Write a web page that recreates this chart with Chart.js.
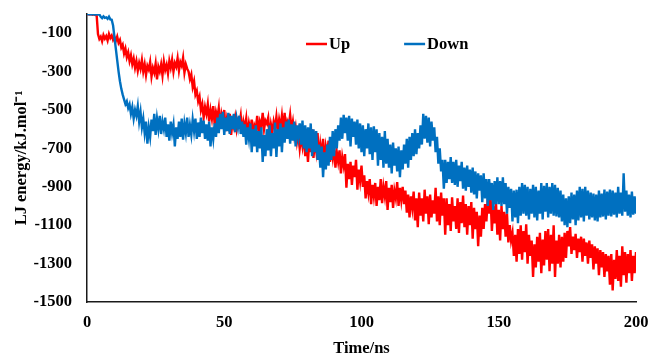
<!DOCTYPE html>
<html>
<head>
<meta charset="utf-8">
<script src="https://cdn.jsdelivr.net/npm/chart.js@4/dist/chart.umd.min.js"></script>
<style>
html,body{margin:0;padding:0;background:#fff;}
#wrap{width:649px;height:356px;position:relative;}
</style>
</head>
<body>
<div id="wrap"><canvas id="c" width="649" height="356"></canvas></div>
<script>
// ---- data ----
const seriesNames = ["Up", "Down"];
const sampleStepNs = 0.5;
const upValues = [
  0,-2,-3,-1,-4,-2,-5,-3,-105,-130,-118,-142,-110,-128,-115,-138,-104,-125,-112,-135,-120,
  -140,-118,-150,-135,-175,-160,-205,-180,-225,-200,-245,-215,-262,-232,-280,-245,-295,-255,-285,-240,
  -300,-262,-318,-270,-290,-250,-325,-280,-305,-258,-340,-275,-300,-262,-320,-248,-292,-265,-310,-245,
  -280,-238,-300,-255,-275,-230,-295,-250,-270,-228,-305,-262,-285,-300,-340,-315,-380,-350,-420,-400,
  -455,-430,-500,-470,-540,-485,-520,-470,-560,-500,-545,-480,-575,-510,-540,-490,-590,-520,-555,-500,
  -610,-545,-580,-520,-630,-560,-590,-540,-600,-555,-575,-530,-620,-560,-595,-545,-635,-570,-610,-550,
  -640,-580,-600,-530,-620,-560,-585,-515,-600,-555,-570,-540,-645,-575,-615,-560,-595,-535,-610,-550,
  -590,-530,-605,-515,-620,-560,-580,-525,-600,-560,-630,-590,-665,-620,-700,-640,-690,-630,-740,-660,
  -770,-650,-720,-600,-750,-660,-715,-620,-760,-680,-740,-650,-790,-690,-730,-660,-770,-700,-750,-680,
  -800,-720,-770,-710,-830,-745,-790,-730,-905,-780,-860,-770,-890,-790,-850,-760,-915,-810,-870,-790,
  -900,-840,-960,-870,-930,-860,-990,-890,-950,-880,-1000,-900,-970,-860,-985,-900,-950,-870,-1020,-905,
  -980,-890,-1010,-920,-960,-875,-1000,-905,-970,-900,-990,-920,-1035,-940,-1060,-950,-1010,-925,-1075,-960,
  -1110,-930,-1050,-960,-1080,-915,-1040,-950,-1095,-940,-1060,-970,-1040,-905,-1080,-950,-1100,-930,-1050,-960,
  -1150,-960,-1100,-990,-1130,-955,-1080,-1000,-1120,-960,-1140,-980,-1090,-945,-1110,-990,-1150,-1000,-1100,-980,
  -1170,-1010,-1120,-1030,-1210,-1050,-1160,-1010,-1120,-990,-1080,-960,-1040,-945,-1130,-1000,-1090,-985,-1150,-1020,
  -1180,-1000,-1120,-1030,-1160,-1040,-1190,-1100,-1180,-1140,-1260,-1150,-1290,-1120,-1250,-1100,-1280,-1130,-1240,-1095,
  -1300,-1150,-1260,-1180,-1370,-1200,-1320,-1160,-1290,-1140,-1350,-1175,-1310,-1130,-1280,-1120,-1340,-1150,-1300,-1100,
  -1370,-1180,-1300,-1150,-1320,-1160,-1290,-1140,-1270,-1130,-1210,-1110,-1250,-1160,-1230,-1145,-1270,-1170,-1240,-1160,
  -1290,-1170,-1260,-1190,-1300,-1180,-1270,-1200,-1330,-1210,-1300,-1220,-1360,-1230,-1320,-1240,-1370,-1250,-1340,-1260,
  -1410,-1250,-1440,-1280,-1380,-1230,-1390,-1260,-1420,-1210,-1360,-1240,-1400,-1250,-1350,-1230,-1390,-1260,-1350,-1240
];
const downValues = [
  0,-2,-1,-3,0,-2,-4,-1,-3,-2,-15,-22,-12,-20,-18,-25,-14,-28,-30,-60,-120,
  -180,-240,-300,-350,-390,-420,-445,-470,-455,-490,-470,-520,-485,-545,-500,-530,-480,-560,-510,-590,
  -545,-620,-560,-675,-590,-640,-550,-610,-520,-630,-545,-600,-530,-625,-560,-600,-540,-640,-575,-660,
  -560,-620,-575,-690,-590,-650,-560,-640,-545,-655,-570,-620,-540,-640,-580,-630,-550,-610,-545,-650,
  -565,-640,-540,-620,-555,-650,-575,-660,-560,-690,-590,-650,-570,-640,-540,-620,-520,-600,-510,-630,
  -540,-610,-515,-625,-530,-600,-520,-615,-545,-590,-530,-625,-560,-640,-575,-680,-590,-650,-570,-720,
  -600,-690,-580,-720,-610,-700,-590,-770,-630,-740,-600,-710,-580,-740,-620,-700,-565,-745,-600,-690,
  -570,-720,-590,-670,-560,-650,-550,-675,-575,-660,-560,-690,-580,-640,-570,-680,-555,-700,-580,-720,
  -590,-700,-570,-740,-600,-720,-610,-760,-680,-800,-690,-850,-720,-810,-680,-790,-640,-760,-610,-740,
  -600,-700,-580,-660,-540,-650,-525,-620,-540,-660,-530,-690,-545,-640,-560,-680,-550,-700,-570,-720,
  -580,-740,-600,-700,-570,-730,-590,-760,-585,-720,-600,-790,-620,-760,-640,-800,-610,-780,-650,-800,
  -680,-830,-670,-790,-700,-820,-690,-850,-710,-810,-680,-780,-650,-800,-640,-760,-620,-740,-600,-730,
  -620,-700,-580,-680,-520,-650,-530,-670,-540,-690,-560,-660,-590,-720,-640,-780,-700,-820,-760,-910,
  -760,-880,-770,-860,-745,-880,-770,-890,-760,-900,-790,-870,-770,-910,-800,-920,-790,-900,-810,-930,
  -800,-940,-820,-960,-830,-920,-840,-980,-830,-960,-860,-1000,-860,-970,-880,-1020,-870,-990,-850,-990,
  -870,-1000,-850,-990,-880,-1040,-900,-1010,-910,-1080,-920,-1060,-915,-1090,-900,-1050,-880,-1040,-890,-1050,
  -900,-1070,-910,-1040,-890,-1060,-900,-1075,-920,-1040,-880,-1070,-895,-1030,-880,-1060,-900,-1040,-880,-1050,
  -890,-1055,-905,-1060,-920,-1080,-940,-1100,-960,-1110,-950,-1090,-930,-1070,-940,-1100,-920,-1075,-900,-1060,
  -910,-1080,-900,-1050,-920,-1070,-930,-1060,-935,-1075,-940,-1080,-920,-1060,-935,-1055,-915,-1070,-925,-1050,
  -915,-1055,-920,-1045,-930,-1060,-900,-1040,-930,-1050,-830,-1030,-920,-1050,-940,-1060,-925,-1045,-950,-1040
];
const xTicks = [0, 50, 100, 150, 200];
const yTicks = [-1500, -1300, -1100, -900, -700, -500, -300, -100];
const xTitle = "Time/ns";
const yTitle = "LJ energy/kJ.mol\u207B\u00B9";

// ---- chart ----
const FONT = "'Liberation Serif', 'Times New Roman', serif";
const toPts = (vals) => vals.map((v, i) => ({x: i * sampleStepNs, y: v}));

const legendPlugin = {
  id: 'manualLegend',
  afterDraw(chart) {
    const ctx = chart.ctx;
    const ca = chart.chartArea;
    ctx.save();
    ctx.font = "bold 16.5px " + FONT;
    ctx.textBaseline = 'middle';
    ctx.fillStyle = '#000';
    let x = ca.left + 219;
    const y = ca.top + 30;
    chart.data.datasets.forEach((ds) => {
      ctx.strokeStyle = ds.borderColor;
      ctx.lineWidth = 2.5;
      ctx.beginPath();
      ctx.moveTo(x, y);
      ctx.lineTo(x + 21, y);
      ctx.stroke();
      ctx.fillText(ds.label, x + 23, y + 1);
      x += 23 + ctx.measureText(ds.label).width + 54;
    });
    ctx.restore();
  }
};

const zeroPad = (axis) => { axis.paddingLeft = 0; axis.paddingRight = 0; axis.paddingTop = 0; axis.paddingBottom = 0; };

new Chart(document.getElementById('c'), {
  type: 'line',
  data: {
    datasets: [
      {label: seriesNames[0], data: toPts(upValues), borderColor: '#FF0000', borderWidth: 2.4, pointRadius: 0, tension: 0, order: 1},
      {label: seriesNames[1], data: toPts(downValues), borderColor: '#0070C0', borderWidth: 2.4, pointRadius: 0, tension: 0, order: 0}
    ]
  },
  options: {
    responsive: false,
    animation: false,
    events: [],
    layout: {padding: {left: 0, right: 13, top: 14, bottom: 0}},
    plugins: {legend: {display: false}, tooltip: {enabled: false}},
    scales: {
      x: {
        type: 'linear', min: 0, max: 200,
        afterBuildTicks: (axis) => { axis.ticks = xTicks.map(v => ({value: v})); },
        afterFit: (axis) => { axis.height = 54; zeroPad(axis); },
        grid: {display: false, drawTicks: false},
        border: {display: true, color: '#1a1a1a', width: 1.5},
        ticks: {color: '#000', font: {family: FONT, size: 16.5, weight: 'bold'}, padding: 11, maxRotation: 0, callback: (v) => String(v)},
        title: {display: true, text: xTitle, color: '#000', font: {family: FONT, size: 16.5, weight: 'bold', lineHeight: 1}, padding: {top: 0, bottom: -1}}
      },
      y: {
        type: 'linear', min: -1500, max: 0,
        afterBuildTicks: (axis) => { axis.ticks = yTicks.map(v => ({value: v})); },
        afterFit: (axis) => { axis.width = 87; zeroPad(axis); },
        grid: {display: false, drawTicks: false},
        border: {display: true, color: '#1a1a1a', width: 1.5},
        ticks: {color: '#000', font: {family: FONT, size: 16.5, weight: 'bold'}, padding: 15, callback: (v) => String(v)},
        title: {display: true, text: yTitle, color: '#000', font: {family: FONT, size: 16.5, weight: 'bold', lineHeight: 1}, padding: {top: 13, bottom: 0}}
      }
    }
  },
  plugins: [legendPlugin]
});
</script>
</body>
</html>
